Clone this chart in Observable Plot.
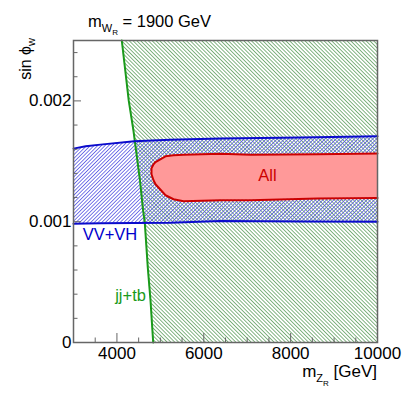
<!DOCTYPE html>
<html><head><meta charset="utf-8">
<script src="https://cdn.jsdelivr.net/npm/d3@7"></script>
<script src="https://cdn.jsdelivr.net/npm/@observablehq/plot@0.6"></script>
<style>body{margin:0;background:#fff} svg{font-family:"Liberation Sans",Arial,sans-serif}</style>
</head><body>
<svg width="0" height="0" style="position:absolute">
  <defs>
    <pattern id="hatchGreen" patternUnits="userSpaceOnUse" width="2.7" height="2.7" patternTransform="rotate(-45)">
      <rect x="0" y="0" width="0.85" height="2.7" fill="#6fa86f"/>
    </pattern>
    <pattern id="hatchBlue" patternUnits="userSpaceOnUse" width="2.6" height="2.6" patternTransform="rotate(45)">
      <rect x="0" y="0" width="0.8" height="2.6" fill="#5a5ae4"/>
    </pattern>
  </defs>
</svg>
<div id="chart"></div>
<script>
// jj+tb exclusion boundary (m_ZR at given sin phi_w); excluded to the right
const greenSin = [0.0025, 0.002, 0.00175, 0.00134, 0.0011, 0.00099, 0.00062, 0.00035, 0];
const greenMz  = [4112, 4273, 4382, 4531, 4600, 4642, 4711, 4773, 4835];
// VV+VH exclusion band
const blueMz = [3000, 3280, 3620, 4400, 5230, 6385, 8230, 10000];
const blueLo = [0.000983, 0.000985, 0.000987, 0.00099, 0.000992, 0.001005, 0.001002, 0.001];
const blueHi = [0.001605, 0.001624, 0.001638, 0.001665, 0.001678, 0.001688, 0.001698, 0.001707];
// combined ("All") exclusion region
const redMz = [4796, 4842, 4888, 5118, 5303, 5533, 6385, 7076, 8618, 10000];
const redLo = [0.001393, 0.001343, 0.00131, 0.001219, 0.001186, 0.001169, 0.001178, 0.001178, 0.001192, 0.001197];
const redHi = [0.001442, 0.001475, 0.001494, 0.001541, 0.00155, 0.001554, 0.001562, 0.001555, 0.001559, 0.001564];
// axes
const xDomain = [3000, 10000];
const yDomain = [0, 0.0025];
const xMajor = [4000, 6000, 8000, 10000];
const xMinor = [3500, 4500, 5000, 5500, 6500, 7000, 7500, 8500, 9000, 9500];
const yMajor = [0, 0.001, 0.002];
const yMinor = [0.0002, 0.0004, 0.0006, 0.0008, 0.0012, 0.0014, 0.0016, 0.0018, 0.0022, 0.0024];
const labels = [
  {text: "All", mz: 7467, s: 0.00138, color: "#cc0000"},
  {text: "VV+VH", mz: 3840, s: 0.000893, color: "#0000cc"},
  {text: "jj+tb", mz: 4313, s: 0.000388, color: "#1a9a1a"}
];

const green = greenSin.map((s, i) => ({s, mz: greenMz[i], right: xDomain[1]}));
const blue = blueMz.map((mz, i) => ({mz, lo: blueLo[i], hi: blueHi[i]}));
const red = redMz.map((mz, i) => ({mz, lo: redLo[i], hi: redHi[i]}));
const redOutline = [...red.slice().reverse().map(d => ({mz: d.mz, s: d.hi})), ...red.map(d => ({mz: d.mz, s: d.lo}))];

const axisColor = "#666";
const svg = Plot.plot({
  width: 407, height: 399,
  marginLeft: 73, marginRight: 30, marginTop: 40, marginBottom: 57,
  style: {fontFamily: "'Liberation Sans', Arial, sans-serif", fontSize: "17px", background: "#fff"},
  x: {domain: xDomain, axis: null},
  y: {domain: yDomain, axis: null},
  marks: [
    Plot.areaX(green, {y: "s", x1: "mz", x2: "right", fill: "url(#hatchGreen)"}),
    Plot.areaY(blue, {x: "mz", y1: "lo", y2: "hi", fill: "url(#hatchBlue)"}),
    Plot.areaY(red, {x: "mz", y1: "lo", y2: "hi", fill: "#ff9999"}),
    Plot.line(green, {x: "mz", y: "s", stroke: "#1a9a1a", strokeWidth: 2}),
    Plot.line(blue, {x: "mz", y: "hi", stroke: "#0a0acc", strokeWidth: 2}),
    Plot.line(blue, {x: "mz", y: "lo", stroke: "#0a0acc", strokeWidth: 2}),
    Plot.line(redOutline, {x: "mz", y: "s", stroke: "#cc0000", strokeWidth: 2}),
    Plot.frame({stroke: axisColor, strokeWidth: 1.5}),
    Plot.axisY(yMajor, {tickSize: -8, tickFormat: () => "", stroke: axisColor}),
    Plot.axisY(yMinor, {tickSize: -4.5, tickFormat: () => "", stroke: axisColor}),
    Plot.axisX(xMajor, {tickSize: -9, tickFormat: () => "", stroke: axisColor}),
    Plot.axisX(xMinor, {tickSize: -4.5, tickFormat: () => "", stroke: axisColor}),
    Plot.axisY(yMajor, {tickSize: 0, tickPadding: 2, tickFormat: d => d === 0 ? "0" : d3.format(".3f")(d), fill: "#000"}),
    Plot.axisX(xMajor, {tickSize: 0, tickPadding: 4, tickFormat: d => String(d), fill: "#000"}),
    Plot.text(labels, {x: "mz", y: "s", text: "text", fill: "color", fontSize: 16.5})
  ]
});

const s = d3.select(svg);
// title
const t = s.append("text").attr("x", 88).attr("y", 27).attr("text-anchor", "start").attr("font-size", 16.5).attr("fill", "#000");
t.append("tspan").text("m");
t.append("tspan").attr("dy", 5).attr("font-size", 11).text("W");
t.append("tspan").attr("dy", 3).attr("font-size", 8).text("R");
t.append("tspan").attr("dy", -8).attr("font-size", 16.5).text(" = 1900 GeV");
// x label
const xl = s.append("text").attr("x", 377).attr("y", 377).attr("text-anchor", "end").attr("font-size", 17).attr("fill", "#000");
xl.append("tspan").text("m");
xl.append("tspan").attr("dy", 5).attr("font-size", 11).text("Z");
xl.append("tspan").attr("dy", 4).attr("font-size", 8).text("R");
xl.append("tspan").attr("dy", -9).attr("font-size", 17).text(" [GeV]");
// y label
const yl = s.append("text").attr("transform", "translate(31,38) rotate(-90)").attr("text-anchor", "end").attr("font-size", 16).attr("fill", "#000");
yl.append("tspan").text("sin \u03d5");
yl.append("tspan").attr("dy", 4).attr("font-size", 11).text("w");

document.getElementById("chart").appendChild(svg);
</script>
</body></html>
